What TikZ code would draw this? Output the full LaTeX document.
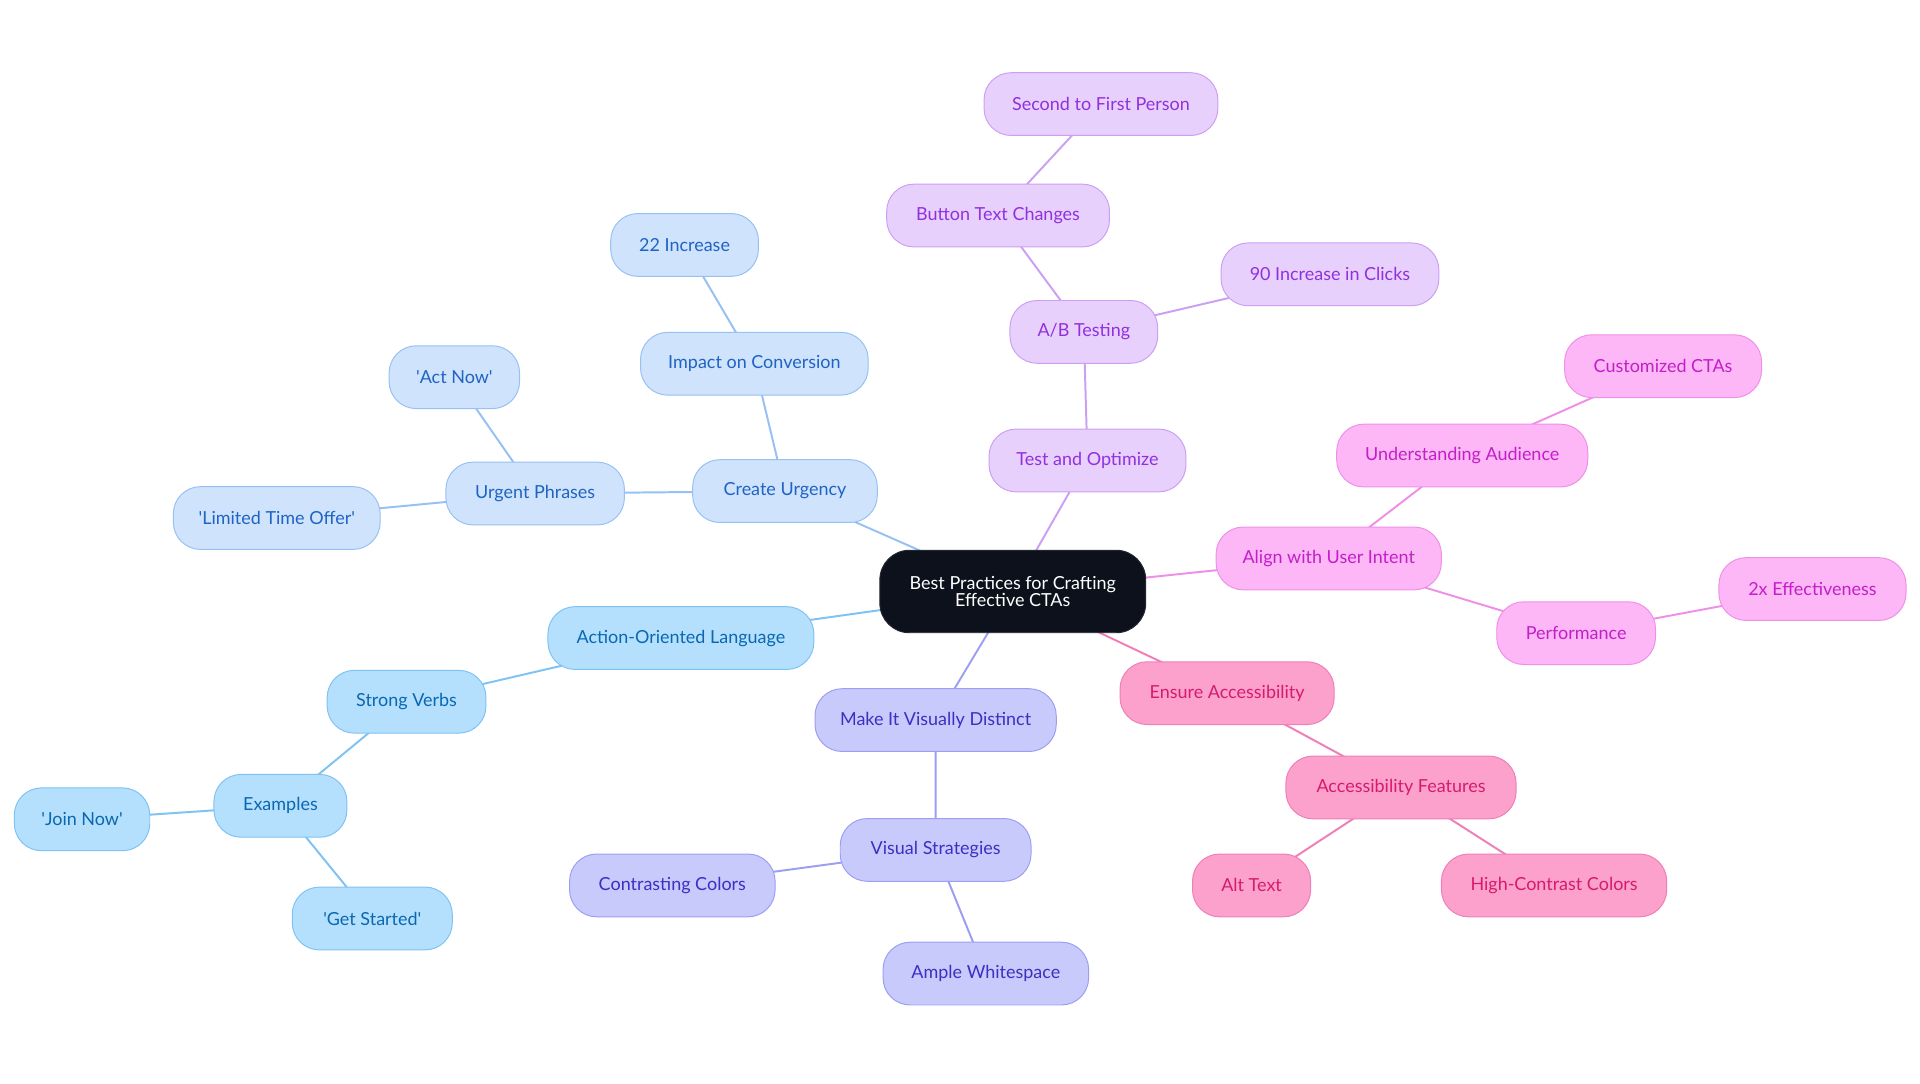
\documentclass[tikz,border=0pt]{standalone}
\usepackage{fontspec}
\setmainfont{Lato}
\usetikzlibrary{backgrounds}
\definecolor{cuF}{HTML}{CFE3FC}\definecolor{cuD}{HTML}{97C1F2}\definecolor{cuT}{HTML}{1F63C4}
\definecolor{aoF}{HTML}{B4E0FE}\definecolor{aoD}{HTML}{7FC2F4}\definecolor{aoT}{HTML}{0A67B0}
\definecolor{vdF}{HTML}{C9CAFC}\definecolor{vdD}{HTML}{9C9EF4}\definecolor{vdT}{HTML}{3A30C2}
\definecolor{toF}{HTML}{E8D0FC}\definecolor{toD}{HTML}{CBA0F4}\definecolor{toT}{HTML}{9130DF}
\definecolor{auF}{HTML}{FDB6F6}\definecolor{auD}{HTML}{EE90E8}\definecolor{auT}{HTML}{C21FC9}
\definecolor{eaF}{HTML}{FBA1CB}\definecolor{eaD}{HTML}{EF7FB6}\definecolor{eaT}{HTML}{D61B6F}
\definecolor{ctr}{HTML}{0C111C}
\newcommand{\sq}{\textquotesingle}
\tikzset{
  x=0.995pt,y=-0.995pt,
  box/.style={rounded corners=22pt, minimum height=51pt, inner sep=0pt, line width=0.8pt, font=\fontsize{14.6}{16}\selectfont, align=center},
  cu/.style={box, fill=cuF, draw=cuD, text=cuT},
  ao/.style={box, fill=aoF, draw=aoD, text=aoT},
  vd/.style={box, fill=vdF, draw=vdD, text=vdT},
  to/.style={box, fill=toF, draw=toD, text=toT},
  au/.style={box, fill=auF, draw=auD, text=auT},
  ea/.style={box, fill=eaF, draw=eaD, text=eaT},
  ln/.style={line width=1.6pt},
}
\begin{document}
\begin{tikzpicture}
\useasboundingbox (0,0) rectangle (1567.8,884.4);
% center
\node[box, fill=ctr, draw=ctr!80!gray, text=white, minimum width=216pt, minimum height=67pt, rounded corners=24pt, font=\fontsize{14.6}{14.5}\selectfont] (c) at (827,483) {Best Practices for Crafting\\Effective CTAs};
% Create Urgency
\node[cu, minimum width=150pt] (cu) at (641,401) {Create Urgency};
\node[cu, minimum width=185pt] (ic) at (616,297) {Impact on Conversion};
\node[cu, minimum width=120pt] (i22) at (559,200) {22 Increase};
\node[cu, minimum width=145pt] (up) at (437,403) {Urgent Phrases};
\node[cu, minimum width=106pt] (an) at (371,308) {\sq Act Now\sq};
\node[cu, minimum width=168pt] (lt) at (226,423) {\sq Limited Time Offer\sq};
% Action-Oriented
\node[ao, minimum width=216pt] (ao) at (556,521) {Action-Oriented Language};
\node[ao, minimum width=129pt] (sv) at (332,573) {Strong Verbs};
\node[ao, minimum width=108pt] (ex) at (229,658) {Examples};
\node[ao, minimum width=110pt] (jn) at (67,669) {\sq Join Now\sq};
\node[ao, minimum width=130pt] (gs) at (304,750) {\sq Get Started\sq};
% Visually distinct
\node[vd, minimum width=196pt] (vd) at (764,588) {Make It Visually Distinct};
\node[vd, minimum width=155pt] (vs) at (764,694) {Visual Strategies};
\node[vd, minimum width=167pt] (cc) at (549,723) {Contrasting Colors};
\node[vd, minimum width=167pt] (aw) at (805,795) {Ample Whitespace};
% Test and optimize
\node[to, minimum width=160pt] (to) at (888,376) {Test and Optimize};
\node[to, minimum width=120pt] (ab) at (885,271) {A/B Testing};
\node[to, minimum width=181pt] (bt) at (815,176) {Button Text Changes};
\node[to, minimum width=190pt] (sf) at (899,85) {Second to First Person};
\node[to, minimum width=177pt] (ni) at (1086,224) {90 Increase in Clicks};
% Align with user intent
\node[au, minimum width=183pt] (au) at (1085,456) {Align with User Intent};
\node[au, minimum width=204pt] (ua) at (1194,372) {Understanding Audience};
\node[au, minimum width=160pt] (cz) at (1358,299) {Customized CTAs};
\node[au, minimum width=129pt] (pf) at (1287,517) {Performance};
\node[au, minimum width=152pt] (tx) at (1480,481) {2x Effectiveness};
% Accessibility
\node[ea, minimum width=174pt] (ea) at (1002,566) {Ensure Accessibility};
\node[ea, minimum width=187pt] (af) at (1144,643) {Accessibility Features};
\node[ea, minimum width=96pt] (at) at (1022,723) {Alt Text};
\node[ea, minimum width=183pt] (hc) at (1269,723) {High-Contrast Colors};
\begin{scope}[on background layer]
\draw[ln, cuD] (c.center) -- (cu.center) (cu.center) -- (ic.center) (ic.center) -- (i22.center) (cu.center) -- (up.center) (up.center) -- (an.center) (up.center) -- (lt.center);
\draw[ln, aoD] (c.center) -- (ao.center) (ao.center) -- (sv.center) (sv.center) -- (ex.center) (ex.center) -- (jn.center) (ex.center) -- (gs.center);
\draw[ln, vdD] (c.center) -- (vd.center) (vd.center) -- (vs.center) (vs.center) -- (cc.center) (vs.center) -- (aw.center);
\draw[ln, toD] (c.center) -- (to.center) (to.center) -- (ab.center) (ab.center) -- (bt.center) (bt.center) -- (sf.center) (ab.center) -- (ni.center);
\draw[ln, auD] (c.center) -- (au.center) (au.center) -- (ua.center) (ua.center) -- (cz.center) (au.center) -- (pf.center) (pf.center) -- (tx.center);
\draw[ln, eaD] (c.center) -- (ea.center) (ea.center) -- (af.center) (af.center) -- (at.center) (af.center) -- (hc.center);
\end{scope}
\end{tikzpicture}
\end{document}
